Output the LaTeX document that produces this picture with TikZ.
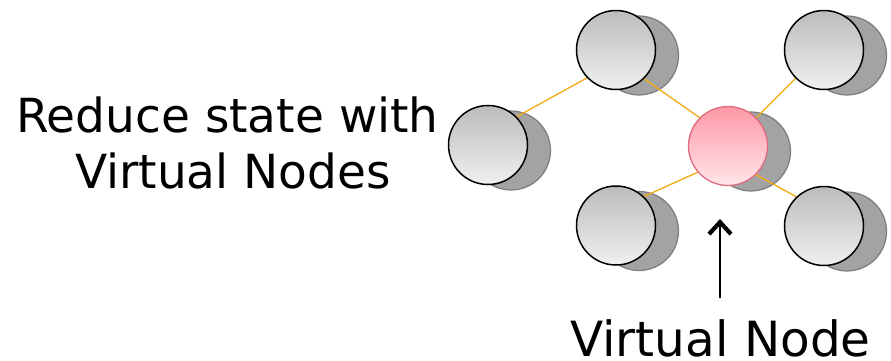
\documentclass[tikz,border=0pt]{standalone}
\usepackage{fontspec}
\setmainfont{DejaVu Sans}
\usetikzlibrary{arrows.meta,calc}
\definecolor{edgeorange}{RGB}{242,170,20}
\definecolor{shadowgray}{RGB}{163,163,163}
\definecolor{shadowborder}{RGB}{125,125,125}
\definecolor{nodetop}{RGB}{188,188,188}
\definecolor{nodebottom}{RGB}{240,240,240}
\definecolor{pinktop}{RGB}{255,152,166}
\definecolor{pinkbottom}{RGB}{255,230,234}
\definecolor{pinkborder}{RGB}{224,104,122}
\begin{document}
\begin{tikzpicture}[x=1pt,y=-1pt,
  shadowdisc/.style={circle,minimum size=79pt,inner sep=0pt,fill=shadowgray,draw=shadowborder,line width=1.2pt},
  frontdisc/.style={circle,minimum size=79pt,inner sep=0pt,draw=black,line width=1.5pt,top color=nodetop,bottom color=nodebottom},
  virtdisc/.style={circle,minimum size=79pt,inner sep=0pt,draw=pinkborder,line width=1.3pt,top color=pinktop,bottom color=pinkbottom},
  edgeline/.style={draw=edgeorange,line width=1.3pt},
  bigtext/.style={inner sep=0pt,anchor=base,font=\fontsize{47}{56}\selectfont}
]
\useasboundingbox (0,0) rectangle (891,361);
% shadows
\node[shadowdisc] (Ls)  at (511,150.5) {};
\node[shadowdisc] (TLs) at (639,55.5) {};
\node[shadowdisc] (TRs) at (847,55.5) {};
\node[shadowdisc] (Ps)  at (751,151.5) {};
\node[shadowdisc] (BLs) at (639,231) {};
\node[shadowdisc] (BRs) at (847,231.5) {};
% node positions
\coordinate (L)  at (488,145);
\coordinate (TL) at (616,50);
\coordinate (TR) at (824,50);
\coordinate (P)  at (728,146);
\coordinate (BL) at (616,225.5);
\coordinate (BR) at (824,226);
% connectors
\draw[edgeline] ($(L)+(0,-12.4)$) -- ($(TL)+(0,11.8)$);
\draw[edgeline] ($(TL)+(0,9.2)$) -- ($(P)+(0,-8.5)$);
\draw[edgeline] (P) -- (TR);
\draw[edgeline] ($(P)+(0,12.6)$) -- ($(BL)+(0,-16.5)$);
\draw[edgeline] ($(P)+(0,13.3)$) -- ($(BR)+(0,-14)$);
% front discs
\node[frontdisc] (nL)  at (L)  {};
\node[frontdisc] (nTL) at (TL) {};
\node[frontdisc] (nTR) at (TR) {};
\node[virtdisc]  (nP)  at (P)  {};
\node[frontdisc] (nBL) at (BL) {};
\node[frontdisc] (nBR) at (BR) {};
% texts
\node[bigtext] (t1) at (227.5,132) {Reduce state with};
\node[bigtext] (t2) at (233,188) {Virtual Nodes};
\node[bigtext,font=\fontsize{48.5}{56}\selectfont] (t3) at (720.5,356.5) {Virtual Node};
% arrow
\coordinate (arrS) at (720,298);
\coordinate (arrE) at (720,219);
\draw[line width=1.3pt,-{Straight Barb[length=12pt,width=22pt,line width=4.2pt]}] (arrS) -- (arrE);
\end{tikzpicture}
\end{document}
